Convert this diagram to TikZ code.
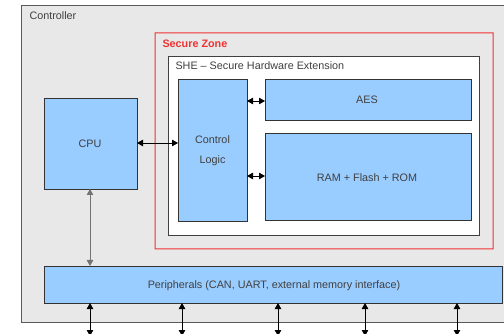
\documentclass[tikz,border=0pt]{standalone}
\usepackage{fontspec}
\setmainfont{Liberation Sans}
\usetikzlibrary{arrows.meta}
\definecolor{ctrlgray}{HTML}{E8E8E8}
\definecolor{blockblue}{HTML}{99CCFF}
\definecolor{zonered}{RGB}{240,50,50}
\definecolor{textgray}{HTML}{404040}
\tikzset{
  block/.style={draw=black!80, line width=0.7pt, fill=blockblue},
  lbl/.style={font=\fontsize{10.8}{12}\selectfont, text=textgray},
  link/.style={line width=0.8pt, {Triangle[length=6pt,width=6.5pt]}-{Triangle[length=6pt,width=6.5pt]}},
}
\begin{document}
\begin{tikzpicture}[x=1pt,y=-1pt]
\useasboundingbox (0,0) rectangle (504,334);
\fill[white] (0,0) rectangle (504,334);
% controller frame (runs past the right edge)
\draw[fill=ctrlgray, draw=black!65, line width=0.8pt] (21,5) rectangle (515,322);
\node[lbl, anchor=west] (ctrl) at (26,16) {Controller};
% secure zone: a thin red band
\fill[zonered, even odd rule] (154.5,32.5) rectangle (493.5,249.5) (155.5,33.5) rectangle (492.5,248.5);
\node[anchor=west, font=\bfseries\fontsize{10.8}{12}\selectfont, text=zonered] (zone) at (159,44) {Secure Zone};
% SHE frame
\draw[fill=white, draw=black!75, line width=0.8pt] (168,56) rectangle (479,235);
\node[lbl, anchor=west] (she) at (172,66) {SHE – Secure Hardware Extension};
% blocks
\draw[block] (178,79) rectangle (247,221);
\node[lbl, align=center] (ctl) at (212.5,151) {Control\\[8pt]Logic};
\coordinate (ctlW) at (178,143);
\coordinate (ctlA) at (247,101);
\coordinate (ctlR) at (247,176);
\draw[block] (265,79) rectangle (471,120);
\node[lbl] (aes) at (367,100) {AES};
\coordinate (aesW) at (265,101);
\draw[block] (265,133) rectangle (471,220);
\node[lbl] (mem) at (367,178) {RAM + Flash + ROM};
\coordinate (memW) at (265,176);
\draw[block] (44,98) rectangle (137,189);
\node[lbl] (cpu) at (90,144) {CPU};
\coordinate (cpuE) at (137,143);
\coordinate (cpuS) at (90,189);
\draw[block] (44,266) rectangle (502,303);
\node[lbl] (per) at (274,286) {Peripherals (CAN, UART, external memory interface)};
\coordinate (perN) at (90,266);
% connectors
\draw[link] (cpuE) -- (ctlW);
\draw[link] (ctlA) -- (aesW);
\draw[link] (ctlR) -- (memW);
\draw[link, draw=black!55, line width=1pt] (cpuS) -- (perN);
\foreach \x [count=\i] in {90,182,278,365,457} {
  \coordinate (pb\i) at (\x,303);
  \coordinate (out\i) at (\x,336);
  \draw[link] (pb\i) -- (out\i);
}
\end{tikzpicture}
\end{document}
